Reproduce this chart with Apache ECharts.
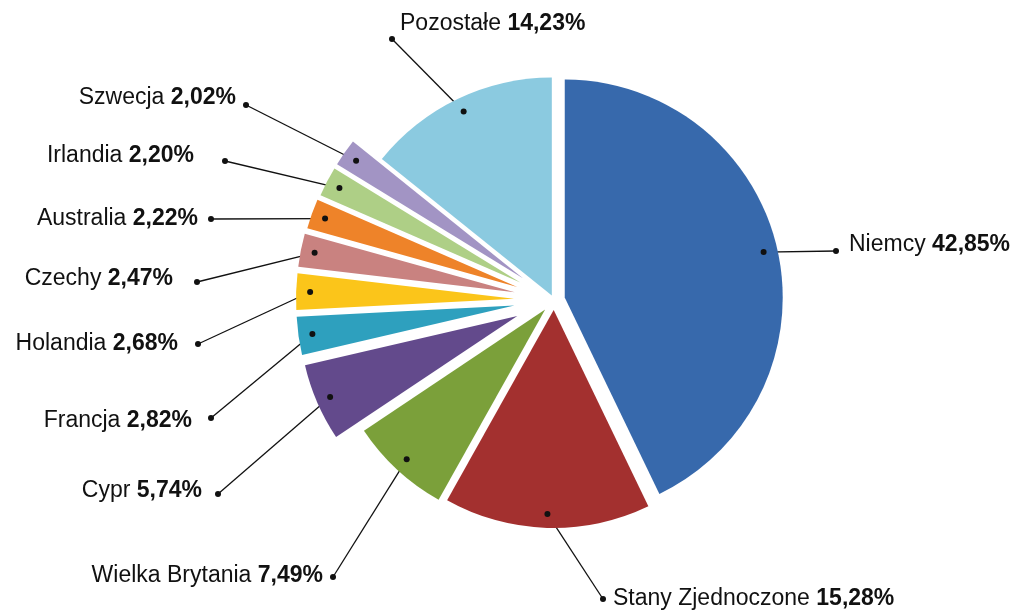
<!DOCTYPE html>
<html>
<head>
<meta charset="utf-8">
<script src="https://cdn.jsdelivr.net/npm/echarts@6/dist/echarts.min.js"></script>
<style>
  html, body { margin: 0; padding: 0; background: #fff; }
  #chart { width: 1022px; height: 611px; }
</style>
</head>
<body>
<div id="chart"></div>
<script>
// udział poszczególnych krajów (%)
var countries = ['Niemcy', 'Stany Zjednoczone', 'Wielka Brytania', 'Cypr', 'Francja',
  'Holandia', 'Czechy', 'Australia', 'Irlandia', 'Szwecja', 'Pozostałe'];
var shares = [42.85, 15.28, 7.49, 5.74, 2.82, 2.68, 2.47, 2.22, 2.20, 2.02, 14.23];
var colors = ['#3769ac', '#a3302f', '#7ba03a', '#634a8c', '#2ea0be',
  '#fbc51a', '#c98280', '#ee8329', '#aecf86', '#a294c4', '#8bcae0'];

// rozsunięcie wycinków (px) i położenie opisów
var explode = [11, 10, 13, 40, 40, 40, 40, 39, 38, 38, 5];
var labelAnchor = [
  [849, 245, 'left'], [613, 599, 'left'], [323, 576, 'right'], [202, 491, 'right'],
  [192, 421, 'right'], [178, 344, 'right'], [173, 279, 'right'], [198, 219, 'right'],
  [194, 156, 'right'], [236, 98, 'right'], [400, 24, 'left']
];
var dotOuter = [
  [836, 251], [603, 599], [333, 577], [218, 494], [211, 418], [198, 344],
  [197, 282], [211, 219], [225, 161], [246, 105], [392, 39]
];

var C = [554, 300];
var R = 218;
var FONT = 'Liberation Sans';

var total = shares.reduce(function(a, b) { return a + b; }, 0);

function fmt(v) {
  return v.toFixed(2).replace('.', ',');
}

// kąt środkowy wycinka, liczony od góry zgodnie z ruchem wskazówek
function midAngle(i) {
  var before = 0;
  for (var k = 0; k < i; k++) before += shares[k];
  return (before + shares[i] / 2) / total * 2 * Math.PI;
}
function sliceCenter(i) {
  var a = midAngle(i);
  return [C[0] + explode[i] * Math.sin(a), C[1] - explode[i] * Math.cos(a)];
}
function innerDot(i) {
  var a = midAngle(i), c = sliceCenter(i), rr = R - 14;
  return [c[0] + rr * Math.sin(a), c[1] - rr * Math.cos(a)];
}

var series = [];
var dots = [];
countries.forEach(function(name, i) {
  series.push({
    type: 'pie',
    silent: true,
    animation: false,
    startAngle: 90,
    clockwise: true,
    avoidLabelOverlap: false,
    center: sliceCenter(i),
    radius: [0, R],
    itemStyle: { borderWidth: 0 },
    label: {
      color: '#111',
      fontFamily: FONT,
      fontSize: 23,
      formatter: function(p) {
        return '{n|' + p.name + '} {b|' + fmt(p.value) + '%}';
      },
      rich: {
        n: { fontFamily: FONT, fontSize: 23, color: '#111' },
        b: { fontFamily: FONT, fontSize: 23, color: '#111', fontWeight: 'bold' }
      }
    },
    labelLine: {
      show: true,
      lineStyle: { color: '#111', width: 1.3 }
    },
    labelLayout: function(p) {
      if (p.dataIndex !== i) return {};
      var a = labelAnchor[i], o = dotOuter[i], s = innerDot(i);
      return {
        x: a[0], y: a[1], align: a[2], verticalAlign: 'middle',
        labelLinePoints: [s, o, o]
      };
    },
    data: countries.map(function(n, j) {
      return {
        name: n,
        value: shares[j],
        itemStyle: { color: j === i ? colors[j] : 'rgba(0,0,0,0)', borderWidth: 0 },
        label: { show: j === i },
        labelLine: { show: j === i }
      };
    })
  });
  var s = innerDot(i);
  dots.push({ type: 'circle', z: 100, silent: true, shape: { cx: s[0], cy: s[1], r: 3 }, style: { fill: '#111' } });
  dots.push({ type: 'circle', z: 100, silent: true, shape: { cx: dotOuter[i][0], cy: dotOuter[i][1], r: 3 }, style: { fill: '#111' } });
});

var myChart = echarts.init(document.getElementById('chart'), null, { renderer: 'canvas' });
myChart.setOption({
  backgroundColor: '#fff',
  animation: false,
  series: series,
  graphic: dots
});
</script>
</body>
</html>
